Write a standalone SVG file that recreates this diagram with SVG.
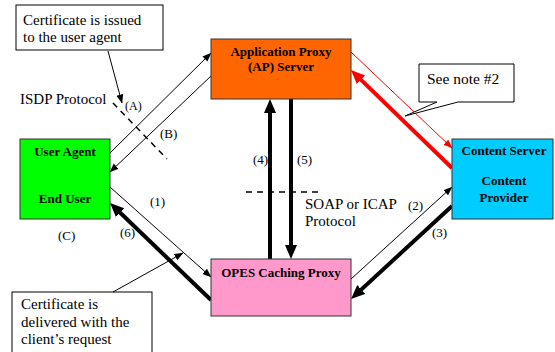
<svg xmlns="http://www.w3.org/2000/svg" width="555" height="352" viewBox="0 0 555 352">
<style>
.node{stroke:#333;stroke-width:1}
.nt{font-family:"Liberation Serif","Times New Roman",serif;font-size:13px;font-weight:bold;text-anchor:middle;fill:#000}
.t{font-family:"Liberation Serif","Times New Roman",serif;font-size:15px;fill:#000}
.lb{font-family:"Liberation Serif","Times New Roman",serif;font-size:13px;fill:#000}
.note{fill:#fff;stroke:#000;stroke-width:1}
.thin{stroke:#000;stroke-width:1;fill:none;marker-end:url(#ah)}
.thick{stroke:#000;stroke-width:4;fill:none;marker-end:url(#ahb)}
.rthin{stroke:#f00;stroke-width:1;fill:none;marker-end:url(#ahr)}
.rthick{stroke:#f00;stroke-width:4;fill:none;marker-end:url(#ahrb)}
.dash{stroke:#000;stroke-width:1.5;stroke-dasharray:6,5;fill:none}
</style>
<defs>
<marker id="ah" markerUnits="userSpaceOnUse" markerWidth="10" markerHeight="8" refX="8.5" refY="3.5" orient="auto"><path d="M0,0 L9,3.5 L0,7 z" fill="#000"/></marker>
<marker id="ahr" markerUnits="userSpaceOnUse" markerWidth="10" markerHeight="8" refX="8.5" refY="3.5" orient="auto"><path d="M0,0 L9,3.5 L0,7 z" fill="#f00"/></marker>
<marker id="ahb" markerUnits="userSpaceOnUse" markerWidth="15" markerHeight="13" refX="6" refY="6" orient="auto"><path d="M0,0 L14,6 L0,12 z" fill="#000"/></marker>
<marker id="ahrb" markerUnits="userSpaceOnUse" markerWidth="15" markerHeight="13" refX="6" refY="6" orient="auto"><path d="M0,0 L14,6 L0,12 z" fill="#f00"/></marker>
</defs>
<rect width="555" height="352" fill="#fff"/>

<g id="connectors">
<line class="thin" x1="110" y1="153" x2="211" y2="53"/>
<line class="thin" x1="211" y1="76" x2="110" y2="172"/>
<line class="thin" x1="110" y1="187" x2="211" y2="277"/>
<line class="thick" x1="211" y1="300" x2="115.8" y2="208.5"/>
<line class="thick" x1="270" y1="259" x2="270" y2="107"/>
<line class="thick" x1="291" y1="99" x2="291" y2="251"/>
<line class="rthin" x1="351" y1="52" x2="452" y2="148"/>
<line class="rthick" x1="452" y1="168" x2="356.7" y2="75.6"/>
<line class="thin" x1="351" y1="279" x2="452" y2="187"/>
<line class="thick" x1="452" y1="206" x2="356.9" y2="293.6"/>
<line class="dash" x1="113" y1="103" x2="167" y2="159"/>
<line class="dash" x1="246" y1="192" x2="320" y2="192"/>
</g>

<g id="note-issued">
<rect class="note" x="16" y="5" width="147" height="45"/>
<text class="t" x="23" y="25">Certificate is issued</text>
<text class="t" x="23" y="41.5">to the user agent</text>
<line class="thin" x1="108" y1="51" x2="122" y2="103"/>
</g>

<g id="note-delivered">
<rect class="note" x="12" y="292" width="140" height="64"/>
<text class="t" x="21" y="309">Certificate is</text>
<text class="t" x="21" y="327">delivered with the</text>
<text class="t" x="21" y="344">client’s request</text>
<line class="thin" x1="113" y1="292" x2="183" y2="253"/>
</g>

<g id="note-2">
<path class="note" d="M419,64 H514 V102 H458 L405,116 L437,102 H419 Z"/>
<text class="t" x="427" y="84" style="font-size:15.5px">See note #2</text>
</g>

<g id="user-agent">
<rect class="node" x="20" y="139" width="90" height="80" fill="#00ff00"/>
<text class="nt" x="65" y="156">User Agent</text>
<text class="nt" x="65" y="203">End User</text>
</g>

<g id="ap-server">
<rect class="node" x="211" y="39" width="140" height="60" fill="#ff6600"/>
<text class="nt" x="281" y="56">Application Proxy</text>
<text class="nt" x="281" y="71">(AP) Server</text>
</g>

<g id="opes-proxy">
<rect class="node" x="211" y="259" width="140" height="57" fill="#ff99cc"/>
<text class="nt" x="281" y="277">OPES Caching Proxy</text>
</g>

<g id="content-server">
<rect class="node" x="452" y="139" width="101" height="80" fill="#00ccff"/>
<text class="nt" x="504" y="155">Content Server</text>
<text class="nt" x="504" y="185">Content</text>
<text class="nt" x="504" y="202">Provider</text>
</g>

<g id="labels">
<text class="t" x="20" y="104">ISDP Protocol</text>
<text class="lb" x="125" y="110" style="font-size:12px">(A)</text>
<text class="lb" x="160" y="138">(B)</text>
<text class="lb" x="58" y="240">(C)</text>
<text class="lb" x="150" y="206">(1)</text>
<text class="lb" x="120" y="237">(6)</text>
<text class="lb" x="253" y="164">(4)</text>
<text class="lb" x="297" y="164">(5)</text>
<text class="t" x="305" y="209">SOAP or ICAP</text>
<text class="t" x="305" y="226">Protocol</text>
<text class="lb" x="408" y="210">(2)</text>
<text class="lb" x="432" y="237">(3)</text>
</g>
</svg>
